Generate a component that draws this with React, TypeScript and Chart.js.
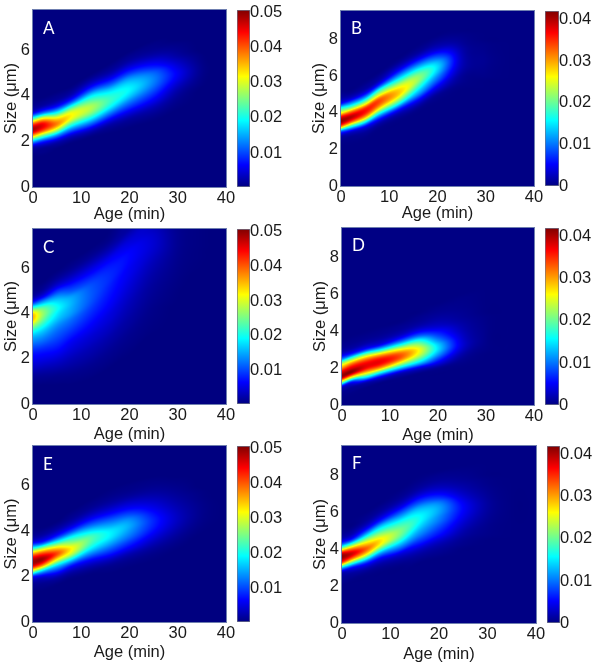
import React, { useEffect, useRef } from "react";
import { Chart, registerables } from "chart.js";

Chart.register(...registerables);

// Ages (min) of the grid columns; sizes step by SIZE_STEP µm. Each column: [first size, values ×1e-3 ...]
const AGES = [0, 2, 5, 8, 12, 16, 20, 25, 30, 35, 40];
const SIZE_STEP = 0.25;
const BACKGROUND = 0.2;

const gridA = [
  [1.5, 0.8, 3, 16, 36, 49, 41, 22, 5.5, 1.5, 0.7],
  [1.5, 0.7, 1.8, 9, 25, 42, 45, 32, 12, 3, 1],
  [1.75, 0.7, 3.5, 13, 28, 38, 33, 20, 8, 2.5, 1],
  [2, 0.8, 4, 12, 22, 31, 31, 22, 10, 3.5, 1.2],
  [2.25, 0.8, 4, 11, 19, 26, 28, 24, 18, 10, 4.5, 1.5],
  [2.5, 0.8, 2.5, 7, 13, 19, 22, 21, 17, 11, 6, 2.5, 1],
  [2.75, 0.8, 2, 5, 9, 13, 17, 19, 17.5, 14, 9, 5, 2.2, 1],
  [3, 0.6, 1.5, 3, 5.5, 8, 10.5, 12.5, 13, 11.5, 8, 5, 2.5, 1.2, 0.7],
  [3.5, 0.5, 0.9, 1.5, 2.5, 4, 5.5, 6, 5, 3.5, 2, 1.2, 0.7],
  [4.5, 0.5, 0.7, 0.9, 0.9, 0.7, 0.5],
  [0],
];
const gridB = [
  [2.5, 0.6, 2, 10, 31, 41, 38, 26, 17, 6, 2, 0.8],
  [2.5, 0.4, 1, 4.5, 17, 33, 40, 34, 22, 12, 4, 1.2],
  [2.75, 0.5, 1.5, 5, 16, 29, 36, 35, 25, 15, 6.5, 2, 0.8],
  [3.25, 0.6, 2.5, 8, 17, 27, 33, 33, 25, 17, 7.5, 2.5, 1],
  [3.75, 0.7, 2.5, 7.5, 16, 23, 28, 28, 24, 18, 12, 6.5, 3, 1],
  [4.25, 0.7, 2.5, 6, 11, 15, 19, 22, 21.5, 18, 13, 8, 4, 1.5, 0.6],
  [4.75, 0.4, 1, 3, 5.5, 8.5, 11, 13.5, 14.5, 13, 9.5, 6, 3, 1.5, 0.7],
  [5.5, 0.4, 0.7, 1, 1.6, 2.2, 2.5, 2.5, 2.2, 1.8, 1.2, 0.8, 0.5],
  [6, 0.4, 0.5, 0.6, 0.7, 0.7, 0.6, 0.5, 0.4],
  [0],
  [0],
];
const gridC = [
  [1, 0.8, 1.5, 3, 4.5, 6, 7.5, 10, 13, 16, 21, 28, 35, 34, 22, 8, 2, 0.8, 0.4],
  [1, 0.7, 1.3, 2.5, 4, 5.5, 7, 9, 11.5, 14, 17, 21, 25, 27, 24, 15, 6, 2, 0.8],
  [1, 0.6, 1, 2, 3.2, 4.5, 6, 7.5, 9, 10.5, 12, 14, 16.5, 18.5, 20, 18, 14, 9, 4.5, 2, 0.8],
  [1, 0.5, 0.8, 1.4, 2.2, 3, 4, 5, 6, 7.5, 9, 10.5, 12, 14, 15, 15.5, 14.5, 11, 8, 5, 2.8, 1.3, 0.6],
  [1.25, 0.5, 0.8, 1.2, 1.8, 2.4, 3, 3.8, 4.5, 5.5, 6.5, 7.5, 8.5, 9.5, 10.5, 11, 11, 10.5, 9, 7, 5, 3, 1.5, 0.7],
  [1.75, 0.5, 0.8, 1.1, 1.5, 2, 2.5, 3.2, 3.8, 4.5, 5, 5.8, 6.5, 7, 7.5, 8, 8.5, 8.5, 8, 7, 5.5, 3.5, 2, 1, 0.6, 0.4],
  [2.25, 0.4, 0.6, 0.8, 1, 1.3, 1.7, 2, 2.4, 2.8, 3.2, 3.7, 4.2, 4.7, 5.2, 5.7, 6, 6.5, 6.7, 6.5, 5.5, 4.5, 3.2, 2],
  [3.25, 0.4, 0.5, 0.6, 0.7, 0.8, 1, 1.2, 1.4, 1.6, 1.9, 2.2, 2.6, 3, 3.5, 4, 4.3, 4.3, 4, 3.5, 3],
  [4.5, 0.3, 0.35, 0.4, 0.5, 0.6, 0.7, 0.8, 0.9, 1, 1.1, 1.2, 1.2, 1.2, 1.1],
  [6, 0.3, 0.35, 0.4, 0.4, 0.45, 0.45, 0.45, 0.45],
  [0],
];
const gridD = [
  [0.5, 0.4, 1, 4.5, 23, 40, 39, 31, 23, 10, 3.5, 1.2, 0.6],
  [0.75, 0.5, 1.5, 7, 26, 41, 38, 31, 20, 7, 2.2, 0.9, 0.5],
  [1, 0.5, 3, 15, 28, 37, 37, 31, 20, 7, 2.5, 1, 0.5],
  [1.25, 0.6, 4.5, 16, 30, 37, 36, 28, 15, 5, 2, 0.9, 0.5],
  [1.5, 0.6, 3.5, 14, 25, 33, 33, 26, 16, 7.5, 3, 1.3, 0.7],
  [1.75, 0.6, 4, 13, 20, 25, 26, 22, 16, 9, 4.5, 2, 1, 0.6],
  [2, 0.8, 4, 8, 12, 14.5, 14, 11, 8, 5.5, 3.2, 2, 1.3, 0.8, 0.5],
  [2.25, 0.4, 0.9, 1.8, 3, 3.7, 3.5, 3, 2.4, 1.9, 1.4, 1, 0.8, 0.6, 0.5, 0.4],
  [3, 0.35, 0.45, 0.5, 0.5, 0.5, 0.45, 0.4, 0.35],
  [0],
  [0],
];
const gridE = [
  [1.5, 0.8, 2, 7.5, 29, 47, 48, 37, 20, 6, 1.8, 0.8],
  [1.5, 0.6, 1.5, 5, 17, 38, 49, 42, 27, 9, 3, 1],
  [1.75, 0.8, 3, 9, 18, 32, 41, 34, 21, 9, 3.5, 1.2],
  [2, 0.8, 3, 8, 18, 29, 32, 26, 19, 10, 4.5, 1.8, 0.8],
  [2.25, 0.9, 3, 7, 13, 19, 23, 23, 18, 12, 7, 3.5, 1.5, 0.7],
  [2.25, 0.5, 1.2, 3.5, 7.5, 11.5, 15.5, 18.5, 18.5, 15, 11, 7, 4, 2, 1, 0.5],
  [2.5, 0.5, 1.2, 2.8, 6, 9, 12, 14, 15, 13.5, 10, 6.5, 4, 2, 1, 0.6],
  [2.75, 0.4, 0.8, 1.7, 3.2, 5, 6.8, 8, 8.3, 7.3, 5.7, 4.2, 2.8, 1.7, 1, 0.6],
  [3.25, 0.4, 0.8, 1.4, 2.2, 3, 3.5, 3.4, 2.9, 2.3, 1.7, 1.2, 0.8, 0.5],
  [4, 0.4, 0.6, 0.8, 0.9, 0.9, 0.8, 0.6, 0.5],
  [0],
];
const gridF = [
  [2.25, 0.6, 1, 3, 14, 33, 41, 39, 24, 10, 3, 1, 0.5],
  [2.5, 0.7, 1.8, 6, 19, 33, 39, 32, 19, 7, 2.5, 1],
  [2.75, 0.7, 2.5, 7, 17, 28, 33, 29, 22, 14, 7, 3, 1.2, 0.6],
  [3, 0.7, 2, 5, 11, 19, 26, 27, 23, 18, 13, 7, 3.5, 1.5, 0.7],
  [3.25, 0.7, 1.8, 4, 8.5, 13, 17.5, 20.5, 21, 19, 16, 12, 8, 4.5, 2.2, 1, 0.5],
  [3.5, 0.7, 1.5, 3, 5.5, 8, 10.5, 12.5, 14.5, 16, 16, 14.5, 12, 8.5, 5.5, 3, 1.5, 0.8, 0.4],
  [3.75, 0.6, 1.1, 2, 3.5, 5.5, 7, 8.5, 10, 11, 12, 12, 10.5, 7.5, 5, 3, 1.8, 1, 0.6],
  [4.25, 0.5, 0.8, 1.4, 2, 2.8, 3.6, 4.4, 5, 5.2, 4.8, 3.8, 2.8, 2, 1.4, 0.9, 0.6, 0.4],
  [4.75, 0.4, 0.5, 0.6, 0.8, 1, 1.2, 1.3, 1.3, 1.1, 0.9, 0.7, 0.5, 0.4],
  [0],
  [0],
];

const AGE_TICKS = [0, 10, 20, 30, 40];
const LETTERS = ["A", "B", "C", "D", "E", "F"];
const GRIDS = [gridA, gridB, gridC, gridD, gridE, gridF];
const SIZE_MAX = [7.75, 9.57, 7.75, 9.57, 7.75, 9.57];
const V_MIN = [0.0003, 0, 0.0003, 0, 0.0003, 0];
const V_MAX = [0.0508, 0.0421, 0.0508, 0.0421, 0.0508, 0.0421];

// layout: [plot left, plot top, plot right, plot bottom, bar left, bar right, letter baseline offset, x-axis height]
const LAYOUT = [
  [33, 9.5, 225.5, 187, 236.5, 250, 24, 37],
  [341, 10.5, 534, 186, 544.7, 558.7, 23, 37],
  [33, 228.7, 225.5, 404, 236.5, 250, 24, 40],
  [341.7, 228.3, 534.3, 405, 544.7, 559, 23, 40],
  [33.3, 446.3, 225.7, 621.7, 236.7, 250, 24, 40],
  [341.7, 445.7, 535.7, 623, 546.7, 560, 22.5, 41],
].map((r) => r.map(Math.round));

const FONT = "'Liberation Sans', Arial, sans-serif";
const FONT_SIZE = 16.5;
const TEXT = "#1a1a1a";
const EDGE = "#6f7fb0";

function jet(t: number): [number, number, number] {
  const c = (x: number) => Math.max(0, Math.min(1, x));
  const r = c(Math.min(4 * t - 1.5, -4 * t + 4.5));
  const g = c(Math.min(4 * t - 0.5, -4 * t + 3.5));
  const b = c(Math.min(4 * t + 0.5, -4 * t + 2.5));
  return [Math.round(r * 255), Math.round(g * 255), Math.round(b * 255)];
}

function nodes(grid: number[][], sizeMax: number) {
  const out: { x: number; y: number; v: number }[] = [];
  const rows = Math.ceil(sizeMax / SIZE_STEP) + 1;
  AGES.forEach((age, i) => {
    const col = grid[i];
    for (let r = 0; r < rows; r++) {
      const size = r * SIZE_STEP;
      const k = Math.round((size - col[0]) / SIZE_STEP) + 1;
      const v = col.length > 1 && k >= 1 && k < col.length ? col[k] : BACKGROUND;
      out.push({ x: age, y: size, v: v / 1000 });
    }
  });
  return out;
}

function cubic(a: number, b: number, c: number, d: number, t: number) {
  return b + 0.5 * t * (c - a + t * (2 * a - 5 * b + 4 * c - d + t * (3 * (b - c) + d - a)));
}

// Hermite blend across unevenly spaced ages: f holds values at columns i-1, i, i+1, i+2
function hermite(f: number[], i: [number, number, number, number], age: number) {
  const x = i.map((k) => AGES[k]);
  const h = x[2] - x[1];
  const t = (age - x[1]) / h;
  const m1 = x[2] > x[0] ? (f[2] - f[0]) / (x[2] - x[0]) : 0;
  const m2 = x[3] > x[1] ? (f[3] - f[1]) / (x[3] - x[1]) : 0;
  const t2 = t * t;
  const t3 = t2 * t;
  return (
    (2 * t3 - 3 * t2 + 1) * f[1] + (t3 - 2 * t2 + t) * h * m1 + (-2 * t3 + 3 * t2) * f[2] + (t3 - t2) * h * m2
  );
}

const heatPlugin = {
  id: "heat",
  beforeDatasetsDraw(chart: any, _args: any, opts: any) {
    if (!opts.enabled) return;
    const { left, right, top, bottom } = chart.chartArea;
    const data = chart.data.datasets[0].data as { x: number; y: number; v: number }[];
    const cols = AGES.length;
    const rows = data.length / cols;
    const clampC = (c: number) => Math.max(0, Math.min(cols - 1, c));
    const at = (c: number, r: number) => data[c * rows + Math.max(0, Math.min(rows - 1, r))].v;

    // ridge position of each column, so neighbouring columns blend along the ridge
    const ridge: number[] = [];
    for (let c = 0; c < cols; c++) {
      let sw = 0;
      let sy = 0;
      for (let r = 0; r < rows; r++) {
        const w = Math.pow(Math.max(0, at(c, r) - (BACKGROUND + 0.05) / 1000), 3);
        sw += w;
        sy += w * r * SIZE_STEP;
      }
      ridge.push(sw > 0 ? sy / sw : ridge[c - 1]);
    }
    const colValue = (c: number, size: number) => {
      const rf = size / SIZE_STEP;
      const r0 = Math.floor(rf);
      return cubic(at(c, r0 - 1), at(c, r0), at(c, r0 + 1), at(c, r0 + 2), rf - r0);
    };

    const w = right - left;
    const h = bottom - top;
    const img = chart.ctx.createImageData(w, h);
    for (let px = 0; px < w; px++) {
      const age = chart.scales.x.getValueForPixel(left + px + 0.5);
      let c0 = 0;
      while (c0 < cols - 2 && AGES[c0 + 1] <= age) c0++;
      const idx = [c0 - 1, c0, c0 + 1, c0 + 2].map(clampC) as [number, number, number, number];
      const center = hermite(idx.map((k) => ridge[k]), idx, age);
      for (let py = 0; py < h; py++) {
        const size = chart.scales.y.getValueForPixel(top + py + 0.5);
        const off = size - center;
        const v = hermite(idx.map((k) => colValue(k, ridge[k] + off)), idx, age);
        const t = (v - opts.vMin) / (opts.vMax - opts.vMin);
        const [cr, cg, cb] = jet(Math.max(0, Math.min(1, t)));
        const i = (py * w + px) * 4;
        img.data[i] = cr;
        img.data[i + 1] = cg;
        img.data[i + 2] = cb;
        img.data[i + 3] = 255;
      }
    }
    chart.ctx.putImageData(img, left, top);
  },
  afterDatasetsDraw(chart: any, _args: any, opts: any) {
    if (!opts.enabled) return;
    const { left, top, width, height } = chart.chartArea;
    const ctx = chart.ctx;
    ctx.save();
    ctx.strokeStyle = EDGE;
    ctx.lineWidth = 1;
    ctx.strokeRect(left - 0.5, top - 0.5, width + 1, height + 1);
    ctx.fillStyle = "#ffffff";
    ctx.font = "17px Lato, 'Open Sans', sans-serif";
    ctx.textAlign = "left";
    ctx.textBaseline = "alphabetic";
    ctx.fillText(opts.letter, left + 10, top + opts.base);
    ctx.restore();
  },
};

function fixSize(width: number | null, height: number | null) {
  return (scale: any) => {
    if (width !== null) scale.width = width;
    if (height !== null) scale.height = height;
    scale.paddingLeft = 0;
    scale.paddingRight = 0;
    scale.paddingTop = 0;
    scale.paddingBottom = 0;
  };
}

function Panel({ index }: { index: number }) {
  const plotRef = useRef<HTMLCanvasElement>(null);
  const barRef = useRef<HTMLCanvasElement>(null);
  const [L, T, R, B, BL, BR, base, xAxisH] = LAYOUT[index];
  const vMin = V_MIN[index];
  const vMax = V_MAX[index];
  const padLeft = 33;
  const padTop = 8;
  const plotW = R - L + padLeft + 20;
  const plotH = B - T + padTop + xAxisH;
  const barW = BR - BL + 42;
  const barH = B - T + 16;

  useEffect(() => {
    const plot = new Chart(plotRef.current!, {
      type: "scatter",
      data: {
        datasets: [
          {
            data: nodes(GRIDS[index], SIZE_MAX[index]) as any,
            pointRadius: 0,
            pointHoverRadius: 0,
            showLine: false,
          },
        ],
      },
      plugins: [heatPlugin as any],
      options: {
        animation: false,
        responsive: false,
        events: [],
        layout: { padding: { left: 0, top: padTop, right: 20, bottom: 0 } },
        plugins: {
          legend: { display: false },
          tooltip: { enabled: false },
          heat: { enabled: true, vMin, vMax, letter: LETTERS[index], base },
        } as any,
        scales: {
          x: {
            type: "linear",
            min: 0,
            max: 40,
            grid: { display: false, drawTicks: false },
            border: { display: false },
            afterFit: fixSize(null, xAxisH),
            afterBuildTicks: (s: any) => {
              s.ticks = AGE_TICKS.map((value) => ({ value }));
            },
            ticks: {
              autoSkip: false,
              maxRotation: 0,
              padding: 2,
              color: TEXT,
              font: { family: FONT, size: FONT_SIZE },
            },
            title: {
              display: true,
              text: "Age (min)",
              color: TEXT,
              padding: { top: 0, bottom: 0 },
              font: { family: FONT, size: FONT_SIZE },
            },
          },
          y: {
            type: "linear",
            min: 0,
            max: SIZE_MAX[index],
            grid: { display: false, drawTicks: false },
            border: { display: false },
            afterFit: fixSize(padLeft, null),
            ticks: {
              stepSize: 2,
              includeBounds: false,
              padding: 3,
              color: TEXT,
              font: { family: FONT, size: FONT_SIZE },
            },
            title: {
              display: true,
              text: "Size (μm)",
              color: TEXT,
              padding: { top: 2, bottom: 0 },
              font: { family: FONT, size: FONT_SIZE },
            },
          },
        },
      } as any,
    });

    const bar = new Chart(barRef.current!, {
      type: "bar",
      data: {
        labels: ["scale"],
        datasets: [
          {
            data: [[vMin, vMax]] as any,
            barPercentage: 1,
            categoryPercentage: 1,
            borderWidth: 1,
            borderSkipped: false,
            borderColor: "#70748a",
            backgroundColor: (c: any) => {
              const a = c.chart.chartArea;
              if (!a) return "#000080";
              const g = c.chart.ctx.createLinearGradient(0, a.bottom, 0, a.top);
              for (let i = 0; i <= 32; i++) {
                const [r, gg, b] = jet(i / 32);
                g.addColorStop(i / 32, `rgb(${r},${gg},${b})`);
              }
              return g;
            },
          },
        ],
      },
      options: {
        animation: false,
        responsive: false,
        events: [],
        layout: { padding: { left: 0, top: 8, right: 0, bottom: 8 } },
        plugins: { legend: { display: false }, tooltip: { enabled: false } },
        scales: {
          x: { display: false },
          y: {
            position: "right",
            min: vMin,
            max: vMax,
            grid: { display: false, drawTicks: false },
            border: { display: false },
            afterFit: fixSize(42, null),
            ticks: {
              stepSize: 0.01,
              includeBounds: false,
              padding: 0,
              color: TEXT,
              font: { family: FONT, size: FONT_SIZE },
              callback: (v: any) => (Number(v) === 0 ? "0" : Number(v).toFixed(2)),
            },
          },
        },
      } as any,
    });

    return () => {
      plot.destroy();
      bar.destroy();
    };
  }, []);

  return (
    <>
      <canvas
        ref={plotRef}
        width={plotW}
        height={plotH}
        style={{ position: "absolute", left: L - padLeft, top: T - padTop, width: plotW, height: plotH }}
      />
      <canvas
        ref={barRef}
        width={barW}
        height={barH}
        style={{ position: "absolute", left: BL, top: T - 8, width: barW, height: barH }}
      />
    </>
  );
}

export default function App() {
  return (
    <div style={{ position: "absolute", left: 0, top: 0, width: 600, height: 666, overflow: "hidden", background: "#fff" }}>
      {LETTERS.map((_, i) => (
        <Panel key={i} index={i} />
      ))}
    </div>
  );
}
